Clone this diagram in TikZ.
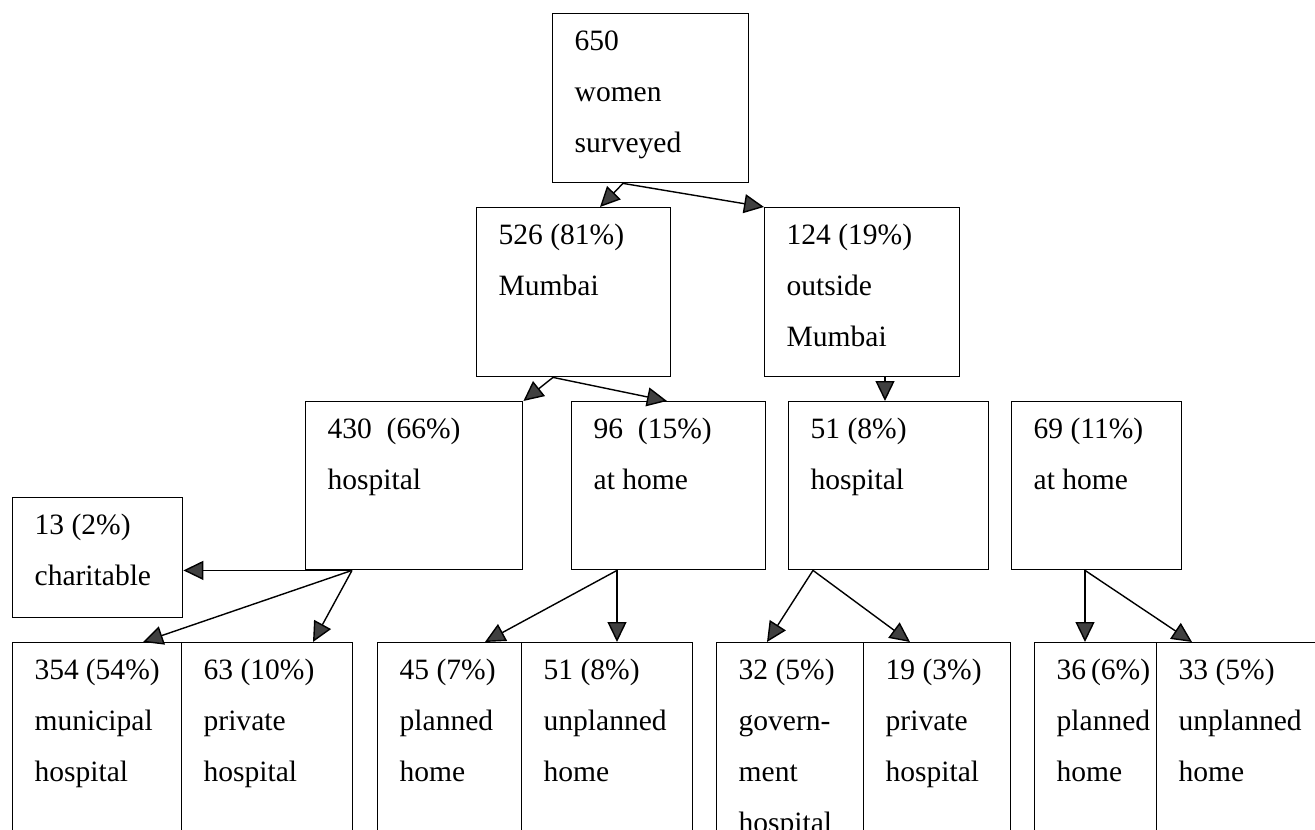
\documentclass[tikz,border=0pt]{standalone}
\usepackage{fontspec}
\setmainfont{Liberation Serif}
\usepackage{tikz}
\usetikzlibrary{calc,arrows.meta}

\newlength{\pxu}
\setlength{\pxu}{0.02cm}
% box text: width, height (in px), lines
\newcommand{\cell}[3]{\parbox[t][\dimexpr#2\pxu-4\pxu\relax][t]{\dimexpr#1\pxu-44\pxu\relax}{\hyphenpenalty=10000\strut#3}}

\begin{document}
\begin{tikzpicture}[x=0.02cm, y=-0.02cm, line width=0.8pt,
  every node/.style={font=\fontsize{16.8}{29}\selectfont},
  box/.style={draw, anchor=north west, inner xsep=0.44cm, inner ysep=0.03cm},
  arr/.style={-{Triangle[length=0.4cm,width=0.38cm,fill=black!75]}}]
\useasboundingbox (0,0) rectangle (1315,830);
\clip (0,0) rectangle (1315,830);
%% --- Top two levels ---
\node[box] (top) at (552,13) {\cell{196}{170}{650\\women\\surveyed}};
\node[box] (mum) at (476,207) {\cell{194}{170}{526~(81\%)\\Mumbai}};
\node[box] (outm) at (764,207) {\cell{195}{170}{124~(19\%)\\outside\\Mumbai}};
%% --- Place of birth ---
\node[box] (hosp) at (305,401) {\cell{217}{169}{430~~(66\%)\\hospital}};
\node[box] (home) at (571,401) {\cell{194}{169}{96~~(15\%)\\at~home}};
\node[box] (ohosp) at (788,401) {\cell{200}{169}{51~(8\%)\\hospital}};
\node[box] (ohome) at (1011,401) {\cell{170}{169}{69~(11\%)\\at~home}};
\node[box] (char) at (12,497) {\cell{170}{121}{13~(2\%)\\charitable}};
%% --- Bottom row (runs off the page) ---
\node[box] (muni) at (12,642) {\cell{169}{230}{354~(54\%)\\municipal\\hospital}};
\node[box] (priv) at (181,642) {\cell{171}{230}{63~(10\%)\\private\\hospital}};
\node[box] (plan) at (377,642) {\cell{144}{230}{45~(7\%)\\planned\\home}};
\node[box] (unpl) at (521,642) {\cell{171}{230}{51~(8\%)\\unplanned\\home}};
\node[box] (gov) at (716,642) {\cell{147}{230}{32~(5\%)\\govern-\\ment\\hospital}};
\node[box] (opriv) at (863,642) {\cell{147}{230}{19~(3\%)\\private\\hospital}};
\node[box] (oplan) at (1034,642) {\cell{122}{230}{36~(6\%)\\planned\\home}};
\node[box] (ounpl) at (1156,642) {\cell{174}{230}{33~(5\%)\\unplanned\\home}};
%% --- Connectors ---
\coordinate (ts) at ($(top.south west)+(71,0)$);
\draw[arr] (ts) -- ($(mum.north west)+(124,0)$);
\draw[arr] (ts) -- (outm.north west);
\coordinate (ms) at ($(mum.south west)+(77,0)$);
\draw[arr] (ms) -- (hosp.north east);
\draw[arr] (ms) -- ($(home.north west)+(96,0)$);
\coordinate (os) at ($(outm.south west)+(121,0)$);
\draw[arr] (os) -- (os |- ohosp.north);
\coordinate (hs) at ($(hosp.south west)+(47,0)$);
\draw[arr] (hs) -- (hs -| char.east);
\draw[arr] (hs) -- ($(muni.north west)+(131,0)$);
\draw[arr] (hs) -- ($(priv.north west)+(132,0)$);
\coordinate (hm) at ($(home.south west)+(46,0)$);
\draw[arr] (hm) -- ($(plan.north west)+(108,0)$);
\draw[arr] (hm) -- (hm |- unpl.north);
\coordinate (ohs) at ($(ohosp.south west)+(25,0)$);
\draw[arr] (ohs) -- ($(gov.north west)+(51,0)$);
\draw[arr] (ohs) -- ($(opriv.north west)+(47,0)$);
\coordinate (ohm) at ($(ohome.south west)+(74,0)$);
\draw[arr] (ohm) -- (ohm |- oplan.north);
\draw[arr] (ohm) -- ($(ounpl.north west)+(36,0)$);
\end{tikzpicture}
\end{document}
